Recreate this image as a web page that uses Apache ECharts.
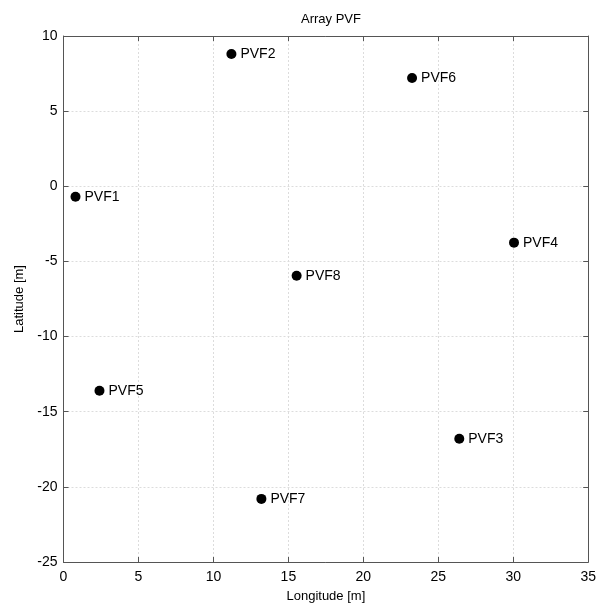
<!DOCTYPE html>
<html>
<head>
<meta charset="utf-8">
<script src="https://cdn.jsdelivr.net/npm/echarts@6/dist/echarts.min.js"></script>
<style>
  html, body { margin: 0; padding: 0; background: #fff; }
  #chart { width: 599px; height: 612px; }
</style>
</head>
<body>
<div id="chart"></div>
<script>
// Array element positions (metres)
const names = ['PVF1', 'PVF2', 'PVF3', 'PVF4', 'PVF5', 'PVF6', 'PVF7', 'PVF8'];
const longitude = [0.8, 11.2, 26.4, 30.05, 2.4, 23.25, 13.2, 15.55];
const latitude = [-0.7, 8.8, -16.8, -3.75, -13.6, 7.2, -20.8, -5.95];

const FONT = 'Liberation Sans, Arial, Helvetica, sans-serif';
const frameColor = '#555';

const points = names.map((n, i) => ({ name: n, value: [longitude[i], latitude[i]] }));

const chart = echarts.init(document.getElementById('chart'));

const xBase = { type: 'value', min: 0, max: 35, interval: 5 };
const yBase = { type: 'value', min: -25, max: 10, interval: 5 };

const frameLine = { show: true, onZero: false, lineStyle: { color: frameColor, width: 1 } };
const frameTick = { show: true, inside: true, length: 5, lineStyle: { color: frameColor } };
const gridLine = { show: true, lineStyle: { color: '#dcdcdc', type: [2, 2], width: 1 } };

chart.setOption({
  animation: false,
  backgroundColor: '#fff',
  title: {
    text: 'Array PVF',
    left: 326,
    top: 8,
    textAlign: 'center',
    textStyle: { fontFamily: FONT, fontSize: 13, fontWeight: 'normal', color: '#000' }
  },
  grid: { left: 63.5, top: 36, right: 10.5, bottom: 50, containLabel: false },
  xAxis: [
    Object.assign({}, xBase, {
      position: 'bottom',
      name: 'Longitude [m]',
      nameLocation: 'middle',
      nameGap: 28,
      nameTextStyle: { fontFamily: FONT, fontSize: 13, color: '#000' },
      axisLine: frameLine,
      axisTick: frameTick,
      axisLabel: { fontFamily: FONT, fontSize: 14, color: '#000', margin: 8 },
      splitLine: gridLine
    }),
    Object.assign({}, xBase, {
      position: 'top',
      axisLine: frameLine,
      axisTick: frameTick,
      axisLabel: { show: false },
      splitLine: { show: false }
    })
  ],
  yAxis: [
    Object.assign({}, yBase, {
      position: 'left',
      name: 'Latitude [m]',
      nameLocation: 'middle',
      nameGap: 36,
      nameTextStyle: { fontFamily: FONT, fontSize: 13, color: '#000' },
      axisLine: frameLine,
      axisTick: frameTick,
      axisLabel: { fontFamily: FONT, fontSize: 14, color: '#000', margin: 6 },
      splitLine: gridLine
    }),
    Object.assign({}, yBase, {
      position: 'right',
      axisLine: frameLine,
      axisTick: frameTick,
      axisLabel: { show: false },
      splitLine: { show: false }
    })
  ],
  series: [{
    type: 'scatter',
    xAxisIndex: 0,
    yAxisIndex: 0,
    data: points,
    symbol: 'circle',
    symbolSize: 10,
    itemStyle: { color: '#000', opacity: 1 },
    label: {
      show: true,
      position: 'right',
      distance: 4,
      formatter: p => p.name,
      fontFamily: FONT,
      fontSize: 14,
      color: '#000',
      opacity: 1
    },
    emphasis: { disabled: true }
  }]
});
</script>
</body>
</html>
